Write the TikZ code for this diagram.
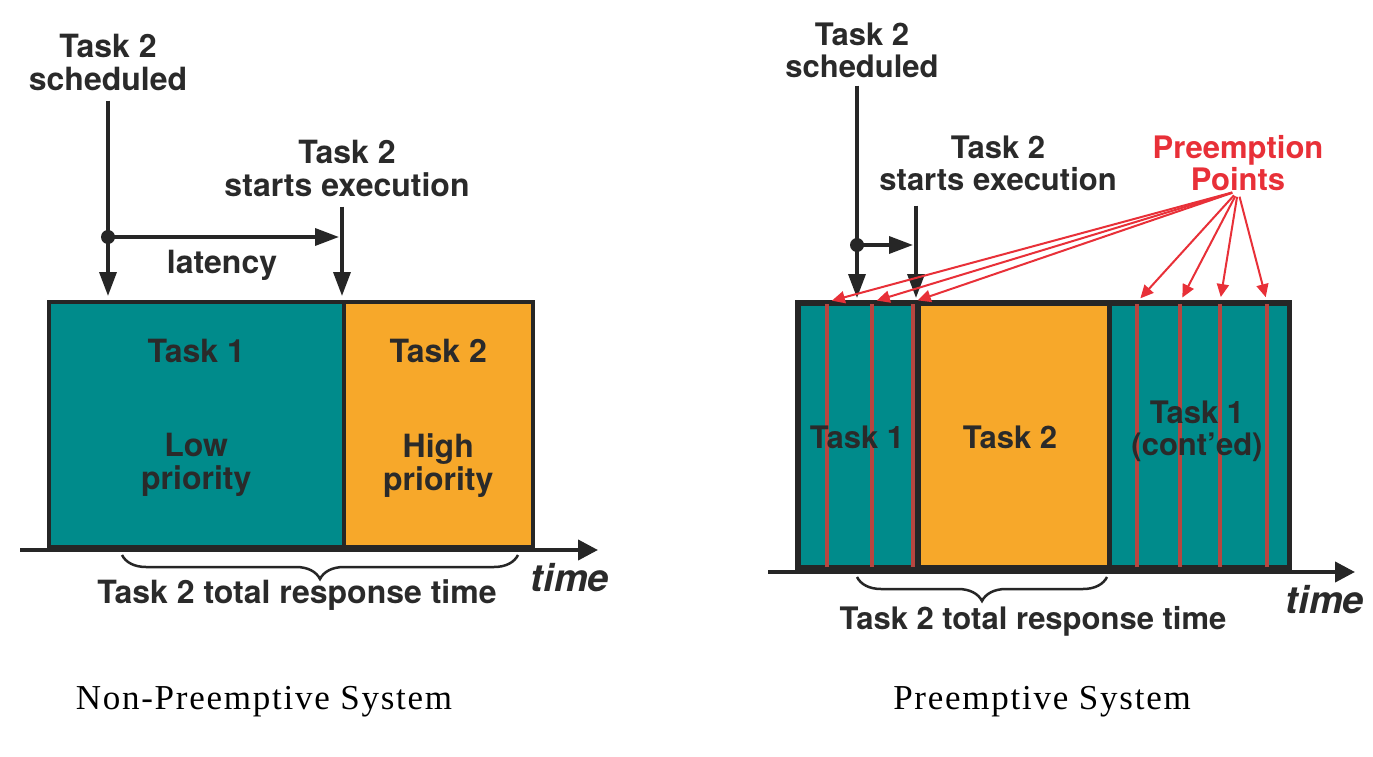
\documentclass[tikz,border=0pt]{standalone}
\usepackage{fontspec}
\newfontfamily\hvfont{TeX Gyre Heros}
\newfontfamily\capfont[LetterSpace=5]{Liberation Serif}
\usetikzlibrary{positioning}
\usetikzlibrary{arrows.meta}
\usetikzlibrary{decorations.pathreplacing}
\definecolor{taskteal}{RGB}{0,139,139}
\definecolor{taskorange}{RGB}{247,168,42}
\definecolor{ink}{RGB}{42,42,42}
\definecolor{ppred}{RGB}{232,48,56}
\definecolor{cutred}{RGB}{183,70,64}
\tikzset{
lbl/.style={font=\hvfont\bfseries\fontsize{32}{33}\selectfont, text=ink, align=center, inner sep=0pt},
lblr/.style={lbl, font=\hvfont\bfseries\fontsize{31}{32}\selectfont},
tbox/.style={draw=black!85, line width=3.5pt, minimum height=#1, inner sep=0pt, anchor=north west},
blk/.style={draw=black!85, line width=3.5pt, -{Triangle[length=24pt,width=17pt]}},
timeaxis/.style={draw=black!85, line width=4pt, -{Triangle[length=20pt,width=20pt]}},
ppline/.style={draw=ppred, line width=2pt, -{Triangle[length=13pt,width=12pt]}, shorten >=5pt},
cutline/.style={draw=cutred, line width=3.5pt},
brc/.style={draw=black!85, line width=2.5pt, decorate, decoration={brace, mirror, amplitude=24pt}},
tlbl/.style={font=\hvfont\bfseries\itshape\fontsize{38}{40}\selectfont, text=ink, inner sep=0pt},
captxt/.style={font=\capfont\fontsize{35}{38}\selectfont, inner sep=0pt}
}
\begin{document}
\begin{tikzpicture}[x=1pt, y=-1pt]
\useasboundingbox (0,0) rectangle (1373,757);

\node[tbox=245pt, fill=taskteal, minimum width=295pt] (A1) at (47,300) {};
\node[tbox=245pt, fill=taskorange, minimum width=189pt] (A2) at (342,300) {};
\node[lbl, below=39pt of A1.north] (A1t) {Task 1};
\node[lbl, below=70pt of A1t] (A1p) {Low\\priority};
\node[lbl, below=39pt of A2.north] (A2t) {Task 2};
\node[lbl, below=70pt of A2t] (A2p) {High\\priority};
\coordinate (d1) at (108,237);
\node[lbl] (sch1) at (108,62) {Task 2\\scheduled};
\node[lbl] (st1) at (347,168) {Task 2\\starts execution};
\node[lbl] (lat) at (222,265) {latency};
\draw[blk, shorten <=10pt, shorten >=4pt] (sch1.south -| d1) -- (d1 |- A1.north);
\draw[blk, shorten <=10pt, shorten >=4pt] (st1.south -| A2.north west) -- (A2.north west);
\draw[blk, shorten >=3pt] (d1) -- (d1 -| A2.north west);
\fill[black!85] (d1) circle (7pt);
\coordinate (o1) at (20,550);
\coordinate (e1) at (598,550);
\draw[timeaxis] (o1) -- (e1);
\coordinate (b1) at (122,555);
\coordinate (b2) at (518,555);
\draw[brc] (b1) -- (b2);
\node[lbl] (rt1) at (297,595) {Task 2 total response time};
\node[tlbl] (tm1) at (570,578) {time};
\node[captxt] (cap1) at (264,702) {Non-Preemptive System};

\node[tbox=263pt, fill=taskteal, minimum width=120pt] (B1) at (797,302) {};
\node[tbox=263pt, fill=taskorange, minimum width=190pt] (B2) at (917,302) {};
\node[tbox=263pt, fill=taskteal, minimum width=180pt] (B3) at (1107,302) {};
\foreach \x [count=\i] in {827,872,913,1137,1180,1220,1267}
  \coordinate (p\i) at (\x,302);
\foreach \i in {1,...,7}
  \draw[cutline] ([yshift=-2pt]p\i) -- ([yshift=-2pt]p\i |- B1.south);
\draw[draw=black!85, line width=3.5pt] (B1.north west) rectangle (B3.south east);
\draw[draw=black!85, line width=3.5pt] (B2.north west) -- (B2.south west) (B2.north east) -- (B2.south east);
\node[lblr] (B1t) at (857,437) {Task 1};
\node[lblr] (B2t) at (1010,437) {Task 2};
\node[lblr] (B3t) at (1197,431) {Task 1\\(cont’ed)};
\coordinate (d2) at (857,245);
\coordinate (e2) at (916,302);
\node[lblr] (sch2) at (862,50) {Task 2\\scheduled};
\node[lblr] (st2) at (998,163) {Task 2\\starts execution};
\node[lblr, text=ppred] (pp) at (1238,163) {Preemption\\Points};
\draw[blk, shorten <=8pt, shorten >=4pt] (sch2.south -| d2) -- (d2 |- B1.north);
\draw[blk, shorten <=15pt, shorten >=4pt] (st2.south -| e2) -- (e2);
\draw[blk, shorten >=3pt] (d2) -- (d2 -| e2);
\fill[black!85] (d2) circle (7pt);
\foreach \i in {1,...,7}
  \draw[ppline, shorten <=6pt] (pp.south) -- (p\i);
\coordinate (o2) at (768,572);
\coordinate (e2x) at (1355,572);
\draw[timeaxis] (o2) -- (e2x);
\coordinate (b3) at (857,577);
\coordinate (b4) at (1107,577);
\draw[brc] (b3) -- (b4);
\node[lblr] (rt2) at (1033,621) {Task 2 total response time};
\node[tlbl] (tm2) at (1325,600) {time};
\node[captxt] (cap2) at (1042,702) {Preemptive System};
\end{tikzpicture}
\end{document}
